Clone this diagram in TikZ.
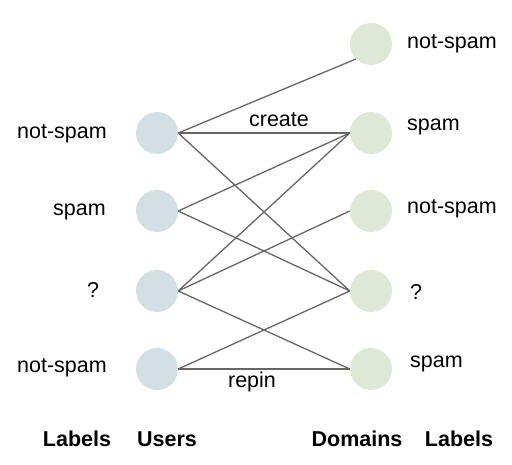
\documentclass[tikz,border=0pt]{standalone}
\usepackage{fontspec}
\setmainfont{Liberation Sans}
\begin{document}
\begin{tikzpicture}[x=1pt,y=-1pt,
  user/.style={circle,fill=userc,minimum size=42pt,inner sep=0pt},
  dom/.style={circle,fill=domc,minimum size=42pt,inner sep=0pt},
  lab/.style={font=\fontsize{21.5}{25}\selectfont,inner sep=0pt},
  head/.style={font=\fontsize{21.5}{25}\selectfont\bfseries,inner sep=0pt},
  edge/.style={draw=edgec,line width=1.3pt}]
\definecolor{userc}{HTML}{D3DFE3}
\definecolor{domc}{HTML}{DDE9D6}
\definecolor{edgec}{HTML}{666666}
\useasboundingbox (0,0) rectangle (512,465);
\node[user] (u1) at (157,133) {};
\node[user] (u2) at (157,211) {};
\node[user] (u3) at (157,291) {};
\node[user] (u4) at (157,369) {};
\node[dom] (d1) at (371,44) {};
\node[dom] (d2) at (371,133) {};
\node[dom] (d3) at (371,211) {};
\node[dom] (d4) at (371,291) {};
\node[dom] (d5) at (371,369) {};
\draw[edge] (u1.east) -- (d1.south west);
\draw[edge] (u1.east) -- (d2.west);
\draw[edge] (u1.east) -- (d4.west);
\draw[edge] (u2.east) -- (d2.west);
\draw[edge] (u2.east) -- (d4.west);
\draw[edge] (u3.east) -- (d2.west);
\draw[edge] (u3.east) -- (d3.west);
\draw[edge] (u3.east) -- (d5.west);
\draw[edge] (u4.east) -- (d4.west);
\draw[edge] (u4.east) -- (d5.west);
\node[lab] (create) at (279,120) {create};
\node[lab] (repin) at (252,382) {repin};
\node[lab,anchor=east] (l1) at (107,134) {not-spam};
\node[lab,anchor=east] (l2) at (106,212) {spam};
\node[lab] (l3) at (93,290) {?};
\node[lab,anchor=east] (l4) at (107,368) {not-spam};
\node[lab,anchor=west] (r1) at (407,44) {not-spam};
\node[lab,anchor=west] (r2) at (407,127) {spam};
\node[lab,anchor=west] (r3) at (407,209) {not-spam};
\node[lab,anchor=west] (r4) at (410,292) {?};
\node[lab,anchor=west] (r5) at (410,364) {spam};
\node[head] (h1) at (77,439) {Labels};
\node[head] (h2) at (167,439) {Users};
\node[head] (h3) at (357,439) {Domains};
\node[head] (h4) at (459,439) {Labels};
\end{tikzpicture}
\end{document}
